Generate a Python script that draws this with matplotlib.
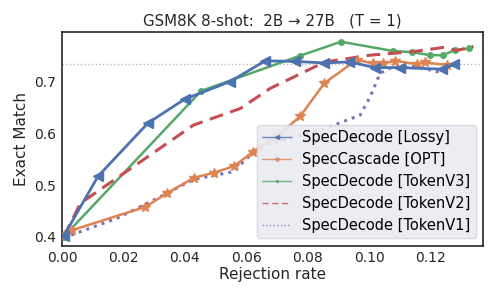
"""GSM8K 8-shot exact match vs rejection rate (2B -> 27B, T = 1)."""

import matplotlib

matplotlib.use("Agg")
import matplotlib.pyplot as plt

# Data
lossy_x = [0.0005, 0.0117, 0.0280, 0.0399, 0.0547, 0.0661, 0.0759, 0.0851, 0.0935, 0.1019, 0.1100, 0.1236, 0.1275]
lossy_y = [0.401, 0.517, 0.620, 0.666, 0.700, 0.740, 0.739, 0.736, 0.738, 0.727, 0.727, 0.724, 0.733]

cascade_x = [0.0005, 0.0033, 0.0271, 0.0341, 0.0428, 0.0495, 0.0561, 0.0620, 0.0702, 0.0775, 0.0854,
             0.0959, 0.1013, 0.1046, 0.1084, 0.1154, 0.1181, 0.1254]
cascade_y = [0.403, 0.413, 0.458, 0.484, 0.514, 0.524, 0.537, 0.564, 0.595, 0.633, 0.697,
             0.742, 0.735, 0.735, 0.740, 0.734, 0.737, 0.732]

v3_x = [0.0005, 0.0453, 0.0775, 0.0908, 0.1078, 0.1138, 0.1198, 0.1240, 0.1279, 0.1326]
v3_y = [0.400, 0.682, 0.750, 0.777, 0.759, 0.757, 0.751, 0.751, 0.761, 0.764]

v2_x = [0.0005, 0.0060, 0.0428, 0.0580, 0.0678, 0.0856, 0.1003, 0.1144, 0.1241, 0.1285, 0.1339]
v2_y = [0.400, 0.465, 0.616, 0.648, 0.687, 0.738, 0.751, 0.758, 0.766, 0.760, 0.768]

v1_x = [0.0005, 0.0179, 0.0298, 0.0428, 0.0558, 0.0623, 0.0677, 0.0850, 0.0970, 0.1003, 0.1035,
        0.1078, 0.1154, 0.1220, 0.1252]
v1_y = [0.398, 0.436, 0.471, 0.511, 0.526, 0.564, 0.581, 0.608, 0.635, 0.671, 0.716,
        0.729, 0.729, 0.719, 0.729]

target_acc = 0.733

_COLORS = {
    "blue": "#4C72B0",
    "orange": "#DD8452",
    "green": "#55A868",
    "red": "#C44E52",
    "purple": "#8172B3",
}

fig, ax = plt.subplots(figsize=(5, 3), dpi=100)

ax.axhline(target_acc, color="#bbbbbb", linestyle=":", lw=1, zorder=1)

ax.plot(lossy_x, lossy_y, color=_COLORS["blue"], marker="<", ms=7.5, lw=2,
        label="SpecDecode [Lossy]", zorder=5)
ax.plot(cascade_x, cascade_y, color=_COLORS["orange"], marker="*", ms=7.5, lw=1.8,
        label="SpecCascade [OPT]", zorder=4)
ax.plot(v3_x, v3_y, color=_COLORS["green"], marker=".", ms=8, lw=1.8,
        label="SpecDecode [TokenV3]", zorder=3)
ax.plot(v2_x, v2_y, color=_COLORS["red"], linestyle="--", dashes=(4.5, 2.5), lw=2.2,
        label="SpecDecode [TokenV2]", zorder=3)
ax.plot(v1_x, v1_y, color=_COLORS["purple"], linestyle=":", lw=2.2,
        label="SpecDecode [TokenV1]", zorder=3)

ax.set_xlim(0, 0.137)
ax.set_ylim(0.383, 0.795)
ax.set_xticks([0.0, 0.02, 0.04, 0.06, 0.08, 0.10, 0.12])
ax.set_xticklabels(["0.00", "0.02", "0.04", "0.06", "0.08", "0.10", "0.12"])
ax.set_yticks([0.4, 0.5, 0.6, 0.7])
ax.tick_params(length=0, labelsize=10, colors="#262626", pad=4)

ax.set_xlabel("Rejection rate", fontsize=11, color="#262626", labelpad=1)
ax.set_ylabel("Exact Match", fontsize=11, color="#262626", labelpad=4)
ax.set_title("GSM8K 8-shot:  2B \u2192 27B   (T = 1)", fontsize=10.8, color="#262626", pad=5)

for spine in ax.spines.values():
    spine.set_color("#262626")
    spine.set_linewidth(1.2)

leg = ax.legend(loc="lower right", fontsize=10.5, frameon=True, fancybox=True,
                facecolor="#EAEAF2", edgecolor="#d6d6de", framealpha=0.9,
                handlelength=2.0, handletextpad=0.75, borderpad=0.35,
                labelspacing=0.48)
for h in leg.legend_handles:
    h.set_linewidth(1.0)
    h.set_markersize(3)
    h.set_alpha(0.8)

fig.subplots_adjust(left=0.124, right=0.966, top=0.892, bottom=0.181)
fig.savefig("out.png", dpi=100)
